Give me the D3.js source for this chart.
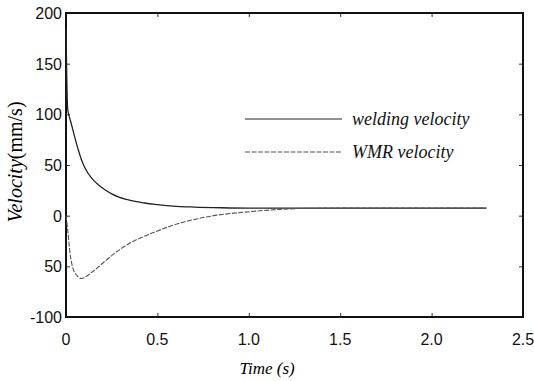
<!DOCTYPE html>
<html>
<head>
<meta charset="utf-8">
<script src="https://cdn.jsdelivr.net/npm/d3@7"></script>
<style>
  body { margin: 0; background: #fff; }
  svg { display: block; }
</style>
</head>
<body>
<svg id="chart"></svg>
<script>
// data
const weldTime = [0, 0.003, 0.006, 0.01, 0.015, 0.03, 0.05, 0.067, 0.085, 0.104, 0.14, 0.18, 0.213, 0.25, 0.286, 0.33, 0.377, 0.43, 0.487, 0.585, 0.7, 0.85, 1.0, 1.5, 2.0, 2.3];
const weldVel = [183, 150, 120, 104, 100, 90, 76, 65, 55, 47, 37, 30, 25.5, 21.5, 18.5, 16, 14, 12.5, 11.2, 9.5, 8.5, 7.8, 7.5, 7.5, 7.5, 7.5];
const wmrTime = [0, 0.01, 0.022, 0.035, 0.055, 0.085, 0.11, 0.14, 0.175, 0.213, 0.26, 0.305, 0.35, 0.395, 0.487, 0.53, 0.585, 0.64, 0.72, 0.79, 0.87, 0.95, 1.06, 1.17, 1.3, 1.5, 2.0, 2.3];
const wmrVel = [0, -15, -37, -50, -58, -62, -60, -56, -51, -45, -38, -32, -27, -23, -16, -13, -9.5, -6.5, -3, -0.5, 1.5, 3, 4.8, 6.2, 7.2, 7.5, 7.5, 7.5];
const xTicks = [0, 0.5, 1.0, 1.5, 2.0, 2.5];
const xTickLabels = ["0", "0.5", "1.0", "1.5", "2.0", "2.5"];
const yTicks = [200, 150, 100, 50, 0, -50, -100];
const yTickLabels = ["200", "150", "100", "50", "0", "50", "-100"];
const seriesNames = ["welding velocity", "WMR velocity"];

const width = 534, height = 381;
const margin = { top: 13, right: 11, bottom: 64, left: 66 };

const svg = d3.select("#chart").attr("width", width).attr("height", height);

const x = d3.scaleLinear().domain([0, 2.5]).range([margin.left, width - margin.right]);
const y = d3.scaleLinear().domain([-100, 200]).range([height - margin.bottom, margin.top]);

const tickFont = "'Liberation Sans', Arial, sans-serif";
const serif = "'Liberation Serif', 'Times New Roman', serif";

// inward ticks on all four sides
svg.append("g")
  .attr("transform", `translate(0,${y(-100)})`)
  .call(d3.axisBottom(x).tickValues(xTicks).tickSize(-4).tickFormat(""))
  .call(g => g.select(".domain").remove());
svg.append("g")
  .attr("transform", `translate(0,${y(200)})`)
  .call(d3.axisTop(x).tickValues(xTicks).tickSize(-4).tickFormat(""))
  .call(g => g.select(".domain").remove());
svg.append("g")
  .attr("transform", `translate(${x(0)},0)`)
  .call(d3.axisLeft(y).tickValues(yTicks).tickSize(-4).tickFormat(""))
  .call(g => g.select(".domain").remove());
svg.append("g")
  .attr("transform", `translate(${x(2.5)},0)`)
  .call(d3.axisRight(y).tickValues(yTicks).tickSize(-4).tickFormat(""))
  .call(g => g.select(".domain").remove());

svg.selectAll(".tick line").attr("stroke", "#333").attr("stroke-width", 1);

// frame
svg.append("rect")
  .attr("x", x(0)).attr("y", y(200))
  .attr("width", x(2.5) - x(0)).attr("height", y(-100) - y(200))
  .attr("fill", "none").attr("stroke", "#111").attr("stroke-width", 2);

// tick labels
svg.append("g").selectAll("text").data(xTicks).join("text")
  .attr("x", d => x(d)).attr("y", y(-100) + 28)
  .attr("text-anchor", "middle")
  .style("font-family", tickFont).style("font-size", "16px").attr("fill", "#111")
  .text((d, i) => xTickLabels[i]);

svg.append("g").selectAll("text").data(yTicks).join("text")
  .attr("x", x(0) - 4).attr("y", d => y(d) + 6)
  .attr("text-anchor", "end")
  .style("font-family", tickFont).style("font-size", "16px").attr("fill", "#111")
  .text((d, i) => yTickLabels[i]);

// axis titles
svg.append("text")
  .attr("x", x(1.1)).attr("y", 374)
  .attr("text-anchor", "middle")
  .style("font-family", serif).style("font-size", "17px").style("font-style", "italic")
  .text("Time (s)");

const yTitle = svg.append("text")
  .attr("transform", "translate(22,162) rotate(-90)")
  .attr("text-anchor", "middle")
  .style("font-family", serif).style("font-size", "20px");
yTitle.append("tspan").style("font-style", "italic").text("Velocity");
yTitle.append("tspan").text("(mm/s)");

// curves
const line = d3.line().x(d => x(d[0])).y(d => y(d[1])).curve(d3.curveMonotoneX);

svg.append("path")
  .datum(weldTime.map((t, i) => [t, weldVel[i]]))
  .attr("d", line)
  .attr("fill", "none").attr("stroke", "#222").attr("stroke-width", 1.3);

svg.append("path")
  .datum(wmrTime.map((t, i) => [t, wmrVel[i]]))
  .attr("d", line)
  .attr("fill", "none").attr("stroke", "#555").attr("stroke-width", 1.1)
  .attr("stroke-dasharray", "5,1.5");

// legend
const legend = svg.append("g");
const legendRows = [
  { name: seriesNames[0], y: 119, stroke: "#222", dash: null },
  { name: seriesNames[1], y: 152, stroke: "#555", dash: "5,1.5" }
];
legendRows.forEach(r => {
  legend.append("line")
    .attr("x1", 245).attr("x2", 342).attr("y1", r.y).attr("y2", r.y)
    .attr("stroke", r.stroke).attr("stroke-width", 1.2)
    .attr("stroke-dasharray", r.dash);
  legend.append("text")
    .attr("x", 352).attr("y", r.y + 6)
    .style("font-family", serif).style("font-size", "18px").style("font-style", "italic")
    .attr("fill", "#111")
    .text(r.name);
});
</script>
</body>
</html>
